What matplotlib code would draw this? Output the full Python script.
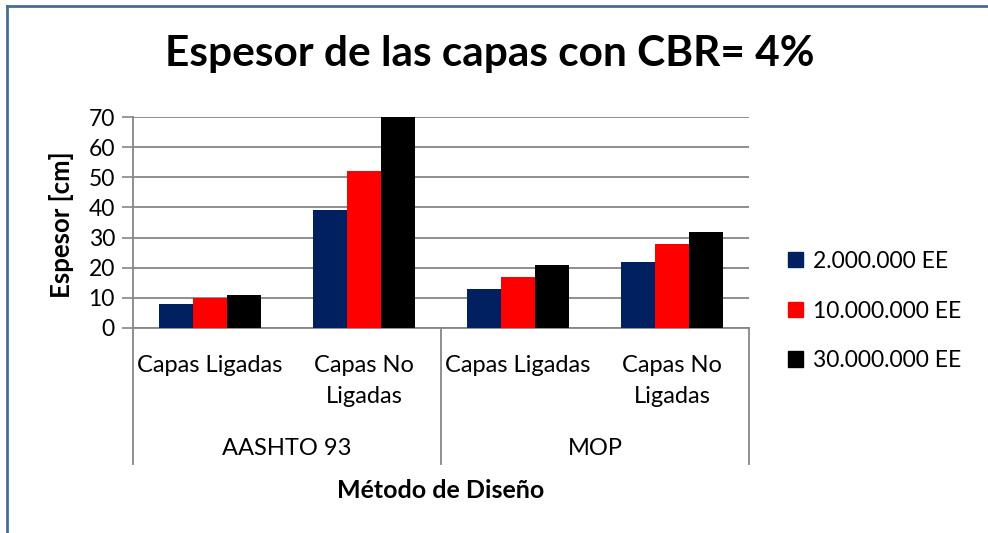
import matplotlib
matplotlib.use("Agg")
import matplotlib.pyplot as plt
from matplotlib.lines import Line2D
from matplotlib.patches import Patch
import numpy as np

plt.rcParams['font.family'] = ['Lato', 'DejaVu Sans']

# data
methods = ['AASHTO 93', 'MOP']
layers = ['Capas Ligadas', 'Capas No\nLigadas']
series = ['2.000.000 EE', '10.000.000 EE', '30.000.000 EE']
ee_2m = [8, 39, 13, 22]
ee_10m = [10, 52, 17, 28]
ee_30m = [11, 70, 21, 32]
colors = ['#002060', '#FF0000', '#000000']

W, H = 988, 533
fig = plt.figure(figsize=(W / 100, H / 100), dpi=100)

def fx(px):
    return px / W

def fy(py):
    return 1 - py / H

ax = fig.add_axes([fx(133), fy(328), fx(749) - fx(133), fy(117) - fy(328)])

x = np.arange(len(methods) * len(layers))
bw = 0.22
for i, (vals, c, lab) in enumerate(zip([ee_2m, ee_10m, ee_30m], colors, series)):
    ax.bar(x + (i - 1) * bw, vals, width=bw, color=c, label=lab, zorder=3)

ax.set_xlim(-0.5, len(x) - 0.5)
ax.set_ylim(0, 70)
ax.set_yticks(range(0, 71, 10))
ax.tick_params(axis='y', length=8, width=1.2, color='#868686', labelsize=16.5, pad=5)
ax.set_xticks([])
ax.yaxis.grid(True, color='#868686', linewidth=1.3, zorder=0)
ax.set_axisbelow(True)
for s in ['top', 'right']:
    ax.spines[s].set_visible(False)
for s in ['left', 'bottom']:
    ax.spines[s].set_color('#868686')
    ax.spines[s].set_linewidth(1.3)

# multi-level category axis
trans = ax.get_xaxis_transform()
y_of = lambda py: (328 - py) / (328 - 117)
cats = [l for m in methods for l in layers]
for xi, lab in zip(x, cats):
    ax.text(xi, y_of(355), lab, transform=trans, ha='center', va='top',
            fontsize=17, linespacing=1.6)
for j, m in enumerate(methods):
    ax.text(j * 2 + 0.5, y_of(448), m, transform=trans, ha='center', va='center',
            fontsize=17)
for sx in [-0.5, 1.5, 3.5]:
    ax.add_line(Line2D([sx, sx], [0, y_of(464)], transform=trans, color='#868686',
                       linewidth=1.3, clip_on=False))

fig.text(fx(441), fy(491), 'Método de Diseño', ha='center', va='center',
         fontsize=18, fontweight='bold')
fig.text(fx(62), fy(225), 'Espesor [cm]', ha='center', va='center',
         rotation=90, fontsize=18.5, fontweight='bold')
fig.text(fx(490), fy(54), 'Espesor de las capas con CBR= 4%', ha='center',
         va='center', fontsize=30.5, fontweight='bold')

handles = [Patch(color=c) for c in colors]
fig.legend(handles, series, loc='center left', bbox_to_anchor=(fx(788), fy(311)),
           frameon=False, fontsize=16.5, handlelength=0.65, handleheight=0.65,
           handletextpad=0.45, labelspacing=1.25, borderpad=0, borderaxespad=0)

# outer border (top and left visible)
fig.add_artist(Line2D([fx(7), 1], [fy(6), fy(6)], color='#4a6a94', linewidth=2))
fig.add_artist(Line2D([fx(7), fx(7)], [0, fy(6)], color='#4a6a94', linewidth=2))

fig.savefig('out.png', dpi=100)
